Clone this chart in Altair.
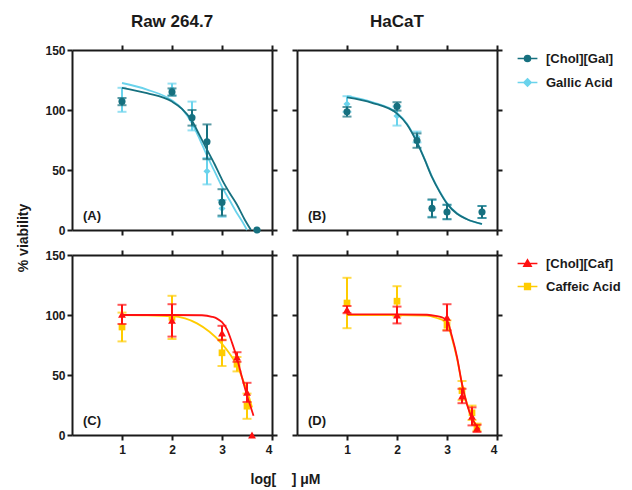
import altair as alt
import pandas as pd

FONT = "Liberation Sans"
INK = "#1a1a1a"

# ---------------- data ----------------
x_gal = [1, 2, 2.4, 2.7, 3, 3.7]
x_caf = [1, 2, 3, 3.3, 3.5, 3.6]

a_cg_mean = [107, 115, 93.5, 73.5, 23, 0]
a_cg_err = [3, 3, 6.5, 14.5, 11, 0]
a_ga_mean = [108.5, 117, 95, 49, 18, 0]
a_ga_err = [10, 5, 12, 11, 7, 0]

b_cg_mean = [98.5, 103, 74.5, 18, 15, 15]
b_cg_err = [4, 3.5, 6, 7.5, 6, 5]
b_ga_mean = [105, 95, 77.5, 18, 15, 15]
b_ga_err = [6.5, 8, 4.5, 7, 6, 5]

c_cc_mean = [100.5, 95.5, 85, 65, 35.5, 0]
c_cc_err = [8, 13.5, 6, 4, 8, 0]
c_ca_mean = [90, 98, 68.5, 59, 24, None]
c_ca_err = [12, 18, 11, 6, 10.5, None]

d_cc_mean = [104.5, 100, 98, 32.5, 15.5, 5.5]
d_cc_err = [3, 7, 11, 6, 7.5, 3]
d_ca_mean = [110, 111.5, 91.5, 37, 18.5, 6.5]
d_ca_err = [21, 12.5, 4, 8, 6, 3]

# fitted curves
ca_cg_x = [1, 1.5, 2, 2.2, 2.4, 2.55, 2.7, 2.85, 3.0, 3.15, 3.3, 3.45, 3.58]
ca_cg_y = [118.5, 114, 107, 101, 91, 79, 67, 55, 42, 31, 21, 9, 0]
ca_ga_x = [1, 1.5, 2, 2.2, 2.4, 2.55, 2.7, 2.85, 3.0, 3.15, 3.3, 3.42, 3.5]
ca_ga_y = [122.5, 117, 108, 101, 89, 76, 62, 49, 36, 25, 14, 6, 0]

cb_x = [1, 1.5, 2, 2.2, 2.4, 2.55, 2.7, 2.85, 3.0, 3.2, 3.4, 3.7]
cb_cg_y = [110.5, 106, 97, 88, 73, 59, 44, 32, 22, 13.5, 9, 5]
cb_ga_y = [111.5, 106.5, 97.5, 88.5, 73.5, 59.5, 44.5, 32.5, 22.5, 14, 9, 5]

cc_cc_x = [1, 2, 2.6, 2.8, 2.9, 3.0, 3.1, 3.2, 3.3, 3.4, 3.5, 3.6, 3.63]
cc_cc_y = [100, 100, 99.8, 98.5, 97, 94, 88, 77, 64, 48, 33, 20, 16]
cc_ca_x = [1, 1.5, 2, 2.5, 2.75, 3.0, 3.15, 3.3, 3.4, 3.5, 3.6]
cc_ca_y = [100, 99.8, 99, 93, 86, 76, 68, 58, 48, 37, 23]

cd_x = [1, 2, 2.6, 2.8, 2.9, 3.0, 3.1, 3.2, 3.3, 3.4, 3.5, 3.6, 3.65]
cd_cc_y = [100.5, 100.5, 100.2, 99, 98, 95.6, 82, 65, 42.5, 25.5, 14, 7, 4.5]
cd_ca_y = [100, 100, 99.5, 97.5, 96, 93, 80.5, 64, 42.5, 26, 14.5, 7.5, 5]

S_CG, S_GA, S_CC, S_CA = "[Chol][Gal]", "Gallic Acid", "[Chol][Caf]", "Caffeic Acid"
COLORS = {S_CG: "#16707f", S_GA: "#6ad3ec", S_CC: "#ff1010", S_CA: "#ffcc00"}
SHAPES = {S_CG: "circle", S_GA: "diamond", S_CC: "triangle-up", S_CA: "square"}
SIZES = {S_CG: 50, S_GA: 50, S_CC: 62, S_CA: 45}
LEG_PATHS = {
    S_CG: "M-3.3,0H3.3M-1,0A1,1,0,1,0,1,0A1,1,0,1,0,-1,0Z",
    S_GA: "M-3.3,0H3.3M0,-1.2L1.2,0L0,1.2L-1.2,0Z",
    S_CC: "M-3.3,0H3.3M0,-1.2L1.2,0.9L-1.2,0.9Z",
    S_CA: "M-3.3,0H3.3M-0.95,-0.95H0.95V0.95H-0.95Z",
}

pt_rows, cv_rows = [], []
def add_pts(panel, series, xs, means, errs):
    for x, m, e in zip(xs, means, errs):
        if m is None:
            continue
        pt_rows.append(dict(panel=panel, series=series, x=x, mean=m, lo=m - e, hi=m + e, err=e))
def add_curve(panel, series, xs, ys):
    for x, y in zip(xs, ys):
        cv_rows.append(dict(panel=panel, series=series, x=x, y=y))

add_pts("A", S_CG, x_gal, a_cg_mean, a_cg_err); add_pts("A", S_GA, x_gal, a_ga_mean, a_ga_err)
add_pts("B", S_CG, x_gal, b_cg_mean, b_cg_err); add_pts("B", S_GA, x_gal, b_ga_mean, b_ga_err)
add_pts("C", S_CC, x_caf, c_cc_mean, c_cc_err); add_pts("C", S_CA, x_caf, c_ca_mean, c_ca_err)
add_pts("D", S_CC, x_caf, d_cc_mean, d_cc_err); add_pts("D", S_CA, x_caf, d_ca_mean, d_ca_err)
add_curve("A", S_CG, ca_cg_x, ca_cg_y); add_curve("A", S_GA, ca_ga_x, ca_ga_y)
add_curve("B", S_CG, cb_x, cb_cg_y); add_curve("B", S_GA, cb_x, cb_ga_y)
add_curve("C", S_CC, cc_cc_x, cc_cc_y); add_curve("C", S_CA, cc_ca_x, cc_ca_y)
add_curve("D", S_CC, cd_x, cd_cc_y); add_curve("D", S_CA, cd_x, cd_ca_y)
pts = pd.DataFrame(pt_rows)
cvs = pd.DataFrame(cv_rows)

XS = alt.Scale(domain=[0, 4], nice=False, zero=False)
YS = alt.Scale(domain=[0, 150], nice=False)
XT = [1, 2, 3, 4]
YT = [0, 50, 100, 150]


def panel(pid, series_order, label, show_xl, show_yl, title=None, legend=False):
    cv = cvs[cvs.panel == pid]
    pt = pts[pts.panel == pid]
    layers = []
    layers.append(alt.Chart(cv).mark_point(opacity=0).encode(
        x=alt.X("x:Q", scale=XS, axis=alt.Axis(orient="bottom", values=XT, labels=show_xl, title=None, format="d")),
        y=alt.Y("y:Q", scale=YS, axis=alt.Axis(orient="left", values=YT, labels=show_yl, title=None)),
    ))
    layers.append(alt.Chart(cv).mark_point(opacity=0).encode(
        x=alt.X("x:Q", scale=XS, axis=alt.Axis(orient="top", values=XT, labels=False, title=None)),
        y=alt.Y("y:Q", scale=YS, axis=alt.Axis(orient="right", values=YT, labels=False, title=None)),
    ))
    for s in series_order:
        col = COLORS[s]
        c = cv[cv.series == s]
        p = pt[pt.series == s]
        pe = p[p.err > 0]
        layers.append(alt.Chart(c).mark_line(color=col, strokeWidth=1.8, interpolate="monotone").encode(
            x=alt.X("x:Q", scale=XS, axis=None), y=alt.Y("y:Q", scale=YS, axis=None), order="x:Q"))
        layers.append(alt.Chart(pe).mark_rule(color=col, strokeWidth=2).encode(
            x=alt.X("x:Q", scale=XS, axis=None), y=alt.Y("lo:Q", scale=YS, axis=None), y2="hi:Q"))
        for f in ["lo", "hi"]:
            layers.append(alt.Chart(pe).mark_tick(color=col, orient="horizontal", size=9, thickness=2).encode(
                x=alt.X("x:Q", scale=XS, axis=None), y=alt.Y(f"{f}:Q", scale=YS, axis=None)))
        layers.append(alt.Chart(p).mark_point(shape=SHAPES[s], filled=True, size=SIZES[s], color=col, opacity=1).encode(
            x=alt.X("x:Q", scale=XS, axis=None), y=alt.Y("mean:Q", scale=YS, axis=None)))
    if legend:
        dom = list(reversed(series_order))
        cols = [COLORS[d] for d in dom]
        L = alt.Legend(orient="right", offset=16, symbolSize=36, symbolStrokeWidth=1.6, symbolOpacity=1,
                       labelFont=FONT, labelFontSize=13, labelFontWeight="bold", labelColor=INK,
                       labelOffset=12, rowPadding=9, padding=2)
        layers.append(alt.Chart(pt).mark_point(filled=True, opacity=0).encode(
            x=alt.X("x:Q", scale=XS, axis=None), y=alt.Y("mean:Q", scale=YS, axis=None),
            color=alt.Color("series:N", scale=alt.Scale(domain=dom, range=cols), legend=L, title=None),
            stroke=alt.Stroke("series:N", scale=alt.Scale(domain=dom, range=cols), legend=L, title=None),
            shape=alt.Shape("series:N", scale=alt.Scale(domain=dom, range=[LEG_PATHS[d] for d in dom]), legend=L, title=None),
        ))
    layers.append(alt.Chart(pd.DataFrame({"label": [label]})).mark_text(
        align="left", baseline="middle", font=FONT, fontSize=13, fontWeight="bold", color=INK).encode(
        x=alt.value(11), y=alt.value(166), text="label:N"))
    ch = alt.layer(*layers).resolve_axis(x="independent", y="independent")
    if title:
        ch = ch.properties(width=200, height=180, title=alt.TitleParams(
            title, font=FONT, fontSize=17, fontWeight="bold", color=INK, offset=13))
    else:
        ch = ch.properties(width=200, height=180)
    return ch


pA = panel("A", [S_GA, S_CG], "(A)", False, True, title="Raw 264.7")
pB = panel("B", [S_GA, S_CG], "(B)", False, False, title="HaCaT", legend=True)
pC = panel("C", [S_CA, S_CC], "(C)", True, True)
pD = panel("D", [S_CA, S_CC], "(D)", True, False, legend=True)

row1 = alt.hconcat(pA, pB, spacing=13)
row2 = alt.hconcat(pC, pD, spacing=13)
inner = alt.vconcat(row1, row2, spacing=13, title=alt.TitleParams(
    "% viability", orient="left", anchor="middle", font=FONT, fontSize=14, fontWeight="bold",
    color=INK, offset=14, dx=-4)).resolve_scale(color="independent", stroke="independent", shape="independent")
chart = alt.vconcat(inner, title=alt.TitleParams(
    "log[\u00a0\u00a0\u00a0\u00a0] \u03bcM", orient="bottom", anchor="middle", font=FONT, fontSize=14,
    fontWeight="bold", color=INK, offset=18, dx=-35)).properties(
    padding={"left": 8, "top": 5, "right": 0, "bottom": 0}
).configure_axis(
    domainColor=INK, domainWidth=2, tickColor=INK, tickWidth=2, tickSize=5, grid=False,
    labelFont=FONT, labelFontSize=12, labelFontWeight="bold", labelColor=INK
).configure_axisX(labelPadding=4).configure_axisY(labelPadding=2).configure_view(stroke=None)

chart.save("out.html", embed_options={"renderer": "svg", "actions": False})
